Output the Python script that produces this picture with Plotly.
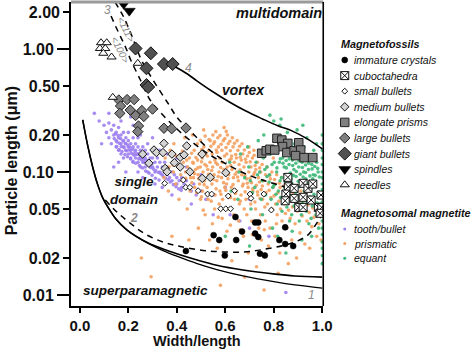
import math
import plotly.graph_objects as go

# ---------------- data ----------------
x_ticks = [0.0, 0.2, 0.4, 0.6, 0.8, 1.0]
x_ticklabels = ["0.0", "0.2", "0.4", "0.6", "0.8", "1.0"]
y_ticks_minor = [2.0, 0.5, 0.2, 0.05, 0.02]
y_ticklabels_minor = ["2.00", "0.50", "0.20", "0.05", "0.02"]
y_ticks_decade = [1.0, 0.1, 0.01]
y_ticklabels_decade = ["1.00", "0.10", "0.01"]

# Magnetosomal magnetite clouds (w/l, length um)
tooth_bullet = [
    (0.06, 0.30), (0.08, 0.26), (0.10, 0.24), (0.11, 0.21), (0.12, 0.25), (0.12, 0.19), (0.13, 0.22), (0.13, 0.17),
    (0.14, 0.20), (0.14, 0.24), (0.15, 0.18), (0.15, 0.21), (0.15, 0.16), (0.16, 0.19), (0.16, 0.23), (0.16, 0.15),
    (0.17, 0.17), (0.17, 0.20), (0.17, 0.14), (0.18, 0.18), (0.18, 0.16), (0.18, 0.21), (0.18, 0.13), (0.19, 0.17),
    (0.19, 0.15), (0.19, 0.19), (0.20, 0.16), (0.20, 0.18), (0.20, 0.14), (0.20, 0.21), (0.21, 0.15), (0.21, 0.17),
    (0.21, 0.13), (0.22, 0.16), (0.22, 0.14), (0.22, 0.19), (0.22, 0.12), (0.23, 0.15), (0.23, 0.13), (0.23, 0.17),
    (0.24, 0.14), (0.24, 0.16), (0.24, 0.12), (0.24, 0.19), (0.25, 0.13), (0.25, 0.15), (0.25, 0.11), (0.26, 0.14),
    (0.26, 0.12), (0.26, 0.16), (0.27, 0.13), (0.27, 0.11), (0.27, 0.15), (0.28, 0.12), (0.28, 0.14), (0.28, 0.10),
    (0.29, 0.12), (0.29, 0.13), (0.30, 0.11), (0.30, 0.13), (0.30, 0.15), (0.31, 0.12), (0.31, 0.10), (0.32, 0.11),
    (0.32, 0.13), (0.33, 0.10), (0.33, 0.12), (0.34, 0.11), (0.34, 0.095), (0.35, 0.10), (0.35, 0.12), (0.36, 0.095),
    (0.36, 0.11), (0.37, 0.09), (0.38, 0.10), (0.38, 0.085), (0.39, 0.095), (0.40, 0.09), (0.40, 0.08), (0.41, 0.085),
    (0.42, 0.09), (0.42, 0.075), (0.43, 0.08), (0.44, 0.085), (0.45, 0.075), (0.46, 0.07), (0.47, 0.08), (0.48, 0.065),
    (0.50, 0.07), (0.52, 0.06), (0.55, 0.065), (0.58, 0.05), (0.62, 0.045), (0.66, 0.04), (0.70, 0.035), (0.78, 0.03),
    (0.85, 0.0105), (0.12, 0.30), (0.14, 0.11), (0.17, 0.26), (0.19, 0.10), (0.22, 0.24), (0.26, 0.09), (0.30, 0.19),
    (0.34, 0.075), (0.40, 0.13), (0.46, 0.055), (0.21, 0.28), (0.25, 0.20), (0.09, 0.17), (0.28, 0.17), (0.33, 0.15),
    (0.36, 0.14), (0.44, 0.11), (0.50, 0.095), (0.55, 0.045), (0.60, 0.075), (0.38, 0.065), (0.31, 0.08), (0.24, 0.10),
    (0.16, 0.12), (0.70, 0.06),
    (0.142, 0.187), (0.153, 0.176), (0.163, 0.171), (0.171, 0.161), (0.183, 0.158), (0.192, 0.149), (0.203, 0.151),
    (0.212, 0.142), (0.224, 0.137), (0.233, 0.139), (0.243, 0.128), (0.254, 0.126), (0.263, 0.121), (0.272, 0.118),
    (0.283, 0.114), (0.292, 0.109), (0.303, 0.106), (0.313, 0.103), (0.324, 0.099), (0.334, 0.097), (0.344, 0.092),
    (0.353, 0.089), (0.364, 0.087), (0.373, 0.083), (0.386, 0.079), (0.397, 0.076), (0.408, 0.073), (0.418, 0.071),
    (0.147, 0.205), (0.158, 0.198), (0.168, 0.187), (0.178, 0.179), (0.188, 0.171), (0.198, 0.166), (0.207, 0.159),
    (0.218, 0.153), (0.228, 0.146), (0.238, 0.141), (0.248, 0.136), (0.258, 0.131), (0.268, 0.127), (0.277, 0.124),
    (0.288, 0.119), (0.297, 0.116),
    (0.152, 0.161), (0.162, 0.152), (0.174, 0.147), (0.186, 0.139), (0.196, 0.133), (0.209, 0.128), (0.219, 0.122),
    (0.231, 0.118), (0.246, 0.113), (0.259, 0.108), (0.271, 0.102), (0.286, 0.098), (0.298, 0.094), (0.312, 0.089),
    (0.327, 0.086),
]

prismatic = [
    (0.352, 0.13), (0.347, 0.09),
    (0.368, 0.11), (0.373, 0.15), (0.365, 0.07),
    (0.392, 0.12), (0.386, 0.10), (0.395, 0.08), (0.388, 0.17),
    (0.412, 0.13), (0.405, 0.11), (0.416, 0.095), (0.409, 0.06),
    (0.432, 0.14), (0.427, 0.12), (0.436, 0.10), (0.424, 0.085), (0.433, 0.19),
    (0.452, 0.13), (0.445, 0.11), (0.457, 0.09), (0.448, 0.16), (0.455, 0.07), (0.443, 0.05),
    (0.472, 0.15), (0.466, 0.12), (0.477, 0.105), (0.469, 0.09), (0.474, 0.075), (0.465, 0.20),
    (0.492, 0.14), (0.486, 0.125), (0.497, 0.11), (0.488, 0.095), (0.494, 0.08), (0.485, 0.17), (0.498, 0.06), (0.489, 0.035),
    (0.512, 0.16), (0.505, 0.13), (0.516, 0.115), (0.508, 0.10), (0.514, 0.085), (0.506, 0.07), (0.511, 0.22), (0.517, 0.045),
    (0.532, 0.15), (0.526, 0.135), (0.537, 0.12), (0.528, 0.105), (0.534, 0.09), (0.525, 0.075), (0.538, 0.18), (0.529, 0.06), (0.535, 0.028),
    (0.552, 0.17), (0.546, 0.14), (0.557, 0.125), (0.548, 0.11), (0.554, 0.095), (0.545, 0.08), (0.558, 0.065), (0.549, 0.20), (0.556, 0.05), (0.547, 0.038),
    (0.572, 0.16), (0.566, 0.145), (0.577, 0.13), (0.568, 0.115), (0.574, 0.10), (0.565, 0.085), (0.578, 0.07), (0.569, 0.19), (0.575, 0.055), (0.567, 0.024),
    (0.592, 0.18), (0.586, 0.15), (0.597, 0.135), (0.588, 0.12), (0.594, 0.105), (0.585, 0.09), (0.598, 0.075), (0.589, 0.06), (0.595, 0.23), (0.587, 0.042),
    (0.612, 0.17), (0.606, 0.14), (0.617, 0.125), (0.608, 0.11), (0.614, 0.095), (0.605, 0.08), (0.618, 0.065), (0.609, 0.20), (0.615, 0.05), (0.607, 0.033),
    (0.632, 0.16), (0.626, 0.135), (0.637, 0.12), (0.628, 0.105), (0.634, 0.09), (0.625, 0.075), (0.638, 0.06), (0.629, 0.19), (0.635, 0.045), (0.627, 0.019),
    (0.652, 0.15), (0.646, 0.13), (0.657, 0.115), (0.648, 0.10), (0.654, 0.085), (0.645, 0.07), (0.658, 0.055), (0.649, 0.18), (0.655, 0.04),
    (0.672, 0.14), (0.666, 0.125), (0.677, 0.11), (0.668, 0.095), (0.674, 0.08), (0.665, 0.065), (0.678, 0.05), (0.669, 0.17), (0.675, 0.03),
    (0.692, 0.135), (0.686, 0.12), (0.697, 0.10), (0.688, 0.088), (0.694, 0.075), (0.685, 0.06), (0.698, 0.16), (0.689, 0.045), (0.695, 0.022),
    (0.712, 0.13), (0.706, 0.11), (0.717, 0.095), (0.708, 0.082), (0.714, 0.07), (0.705, 0.055), (0.718, 0.15), (0.709, 0.04),
    (0.732, 0.12), (0.726, 0.105), (0.737, 0.09), (0.728, 0.078), (0.734, 0.065), (0.725, 0.05), (0.738, 0.035), (0.729, 0.017),
    (0.752, 0.115), (0.746, 0.10), (0.757, 0.085), (0.748, 0.072), (0.754, 0.06), (0.745, 0.045), (0.758, 0.14), (0.749, 0.028),
    (0.772, 0.11), (0.766, 0.095), (0.777, 0.08), (0.768, 0.068), (0.774, 0.055), (0.765, 0.04), (0.778, 0.025),
    (0.792, 0.10), (0.786, 0.088), (0.797, 0.075), (0.788, 0.062), (0.794, 0.05), (0.785, 0.035), (0.798, 0.13),
    (0.812, 0.095), (0.806, 0.08), (0.817, 0.068), (0.808, 0.055), (0.814, 0.045), (0.805, 0.03), (0.818, 0.015),
    (0.832, 0.09), (0.826, 0.075), (0.837, 0.062), (0.828, 0.05), (0.834, 0.04), (0.825, 0.022),
    (0.852, 0.085), (0.846, 0.07), (0.857, 0.058), (0.848, 0.046), (0.854, 0.035),
    (0.872, 0.08), (0.866, 0.065), (0.877, 0.052), (0.868, 0.042), (0.874, 0.028),
    (0.892, 0.075), (0.886, 0.06), (0.897, 0.048), (0.888, 0.038), (0.894, 0.020),
    (0.912, 0.07), (0.906, 0.055), (0.917, 0.044), (0.908, 0.032),
    (0.932, 0.065), (0.926, 0.05), (0.937, 0.04), (0.928, 0.026),
    (0.952, 0.06), (0.946, 0.047), (0.957, 0.036), (0.948, 0.024),
    (0.972, 0.055), (0.966, 0.043), (0.977, 0.030),
    (0.992, 0.05), (0.986, 0.038), (0.995, 0.028),
    (0.254, 0.020), (0.294, 0.0141), (0.38, 0.03), (0.58, 0.012), (0.68, 0.014), (0.76, 0.011), (0.45, 0.028), (0.86, 0.018),
    (0.461, 0.142), (0.479, 0.131), (0.503, 0.152), (0.519, 0.141), (0.541, 0.162), (0.563, 0.151), (0.583, 0.168),
    (0.603, 0.158), (0.621, 0.149), (0.643, 0.139), (0.662, 0.132), (0.683, 0.127), (0.703, 0.121), (0.723, 0.113),
    (0.742, 0.108), (0.468, 0.118), (0.487, 0.108), (0.502, 0.121), (0.523, 0.112), (0.544, 0.103), (0.561, 0.119),
    (0.581, 0.109), (0.601, 0.101), (0.622, 0.113), (0.641, 0.096), (0.661, 0.104), (0.681, 0.093), (0.702, 0.089),
    (0.721, 0.099), (0.741, 0.083), (0.473, 0.097), (0.491, 0.088), (0.513, 0.079), (0.531, 0.096), (0.551, 0.087),
    (0.571, 0.092), (0.593, 0.082), (0.611, 0.088), (0.632, 0.079), (0.651, 0.091), (0.671, 0.077), (0.691, 0.081),
    (0.713, 0.073), (0.733, 0.069), (0.753, 0.077), (0.482, 0.068), (0.502, 0.063), (0.522, 0.067), (0.542, 0.058),
    (0.562, 0.073), (0.582, 0.066), (0.602, 0.071), (0.622, 0.062), (0.642, 0.067), (0.662, 0.058), (0.682, 0.069),
    (0.702, 0.063), (0.722, 0.057), (0.743, 0.061), (0.763, 0.052), (0.533, 0.184), (0.556, 0.176), (0.578, 0.198),
    (0.598, 0.187), (0.619, 0.178), (0.638, 0.171), (0.659, 0.162), (0.679, 0.151), (0.699, 0.144), (0.719, 0.137),
    (0.497, 0.181), (0.517, 0.196), (0.561, 0.213), (0.604, 0.214), (0.624, 0.128), (0.783, 0.094), (0.803, 0.087),
    (0.823, 0.081), (0.842, 0.077), (0.862, 0.073), (0.781, 0.071), (0.801, 0.064), (0.821, 0.058), (0.843, 0.055),
    (0.861, 0.049), (0.881, 0.068), (0.902, 0.063), (0.922, 0.058), (0.941, 0.054), (0.961, 0.051), (0.423, 0.148),
    (0.441, 0.125), (0.417, 0.108), (0.437, 0.089), (0.456, 0.104), (0.462, 0.082), (0.398, 0.135), (0.384, 0.114),
    (0.509, 0.049), (0.571, 0.043), (0.621, 0.037), (0.662, 0.034), (0.712, 0.031), (0.761, 0.034), (0.811, 0.038),
]

equant = [
    (0.618, 0.12), (0.624, 0.07),
    (0.657, 0.10), (0.663, 0.14), (0.652, 0.06),
    (0.697, 0.11), (0.703, 0.085), (0.692, 0.16), (0.706, 0.05),
    (0.727, 0.12), (0.733, 0.095), (0.722, 0.075), (0.736, 0.18), (0.729, 0.04),
    (0.757, 0.13), (0.763, 0.105), (0.752, 0.085), (0.766, 0.065), (0.759, 0.20), (0.754, 0.045),
    (0.787, 0.14), (0.793, 0.115), (0.782, 0.095), (0.796, 0.075), (0.789, 0.06), (0.784, 0.29), (0.795, 0.035),
    (0.817, 0.15), (0.823, 0.12), (0.812, 0.10), (0.826, 0.085), (0.819, 0.07), (0.814, 0.055), (0.825, 0.24), (0.816, 0.03),
    (0.837, 0.13), (0.843, 0.11), (0.832, 0.09), (0.846, 0.075), (0.839, 0.062), (0.834, 0.048), (0.845, 0.19),
    (0.857, 0.14), (0.863, 0.115), (0.852, 0.095), (0.866, 0.08), (0.859, 0.066), (0.854, 0.052), (0.865, 0.04), (0.856, 0.21),
    (0.877, 0.125), (0.883, 0.105), (0.872, 0.088), (0.886, 0.072), (0.879, 0.058), (0.874, 0.045), (0.885, 0.17), (0.876, 0.033),
    (0.897, 0.13), (0.903, 0.11), (0.892, 0.092), (0.906, 0.076), (0.899, 0.062), (0.894, 0.05), (0.905, 0.04), (0.896, 0.22),
    (0.917, 0.12), (0.923, 0.10), (0.912, 0.085), (0.926, 0.07), (0.919, 0.056), (0.914, 0.045), (0.925, 0.16), (0.916, 0.028),
    (0.937, 0.125), (0.943, 0.105), (0.932, 0.088), (0.946, 0.074), (0.939, 0.06), (0.934, 0.048), (0.945, 0.038), (0.936, 0.19),
    (0.957, 0.115), (0.963, 0.095), (0.952, 0.08), (0.966, 0.066), (0.959, 0.053), (0.954, 0.042), (0.965, 0.15), (0.956, 0.03),
    (0.977, 0.12), (0.983, 0.10), (0.972, 0.083), (0.986, 0.069), (0.979, 0.056), (0.974, 0.045), (0.985, 0.035), (0.976, 0.17),
    (1.0, 0.20), (1.0, 0.17), (1.0, 0.15), (1.0, 0.13), (1.0, 0.115), (1.0, 0.10), (1.0, 0.09), (1.0, 0.08), (1.0, 0.072),
    (1.0, 0.064), (1.0, 0.057), (1.0, 0.05), (1.0, 0.045), (1.0, 0.04), (1.0, 0.035), (1.0, 0.031), (1.0, 0.027),
    (1.0, 0.024), (1.0, 0.021), (1.0, 0.018),
    (0.70, 0.025), (0.60, 0.03), (0.85, 0.022), (0.80, 0.26), (0.92, 0.24), (0.83, 0.27),
    (0.852, 0.108), (0.868, 0.098), (0.881, 0.094), (0.893, 0.101), (0.909, 0.096), (0.921, 0.091), (0.931, 0.099),
    (0.949, 0.093), (0.961, 0.088), (0.971, 0.094), (0.988, 0.091), (0.848, 0.084), (0.861, 0.077), (0.874, 0.081),
    (0.889, 0.066), (0.901, 0.084), (0.913, 0.078), (0.929, 0.063), (0.942, 0.081), (0.953, 0.072), (0.968, 0.077),
    (0.982, 0.064), (0.842, 0.067), (0.858, 0.059), (0.871, 0.064), (0.883, 0.053), (0.898, 0.057), (0.911, 0.061),
    (0.924, 0.052), (0.938, 0.057), (0.951, 0.063), (0.964, 0.058), (0.978, 0.051), (0.991, 0.055), (0.802, 0.12),
    (0.813, 0.108), (0.827, 0.128), (0.838, 0.118), (0.851, 0.124), (0.864, 0.128), (0.878, 0.113), (0.891, 0.118),
    (0.904, 0.123), (0.918, 0.109), (0.931, 0.114), (0.944, 0.118), (0.958, 0.106), (0.969, 0.111), (0.981, 0.107),
    (0.772, 0.092), (0.781, 0.083), (0.801, 0.078), (0.809, 0.066), (0.828, 0.062), (0.772, 0.11), (0.742, 0.10),
    (0.748, 0.06), (0.712, 0.068), (0.68, 0.09),
]

# Magnetofossils
immature_x = [0.4375, 0.552, 0.575, 0.598, 0.642, 0.645, 0.669, 0.723, 0.736, 0.723, 0.736, 0.743, 0.763, 0.847, 0.823, 0.847, 0.880]
immature_y = [0.0228, 0.0307, 0.0280, 0.0210, 0.0431, 0.0280, 0.0328, 0.0389, 0.0389, 0.0316, 0.0296, 0.0217, 0.0210, 0.0355, 0.0280, 0.0260, 0.0250]

cubo_x = [0.858, 0.860, 0.850, 0.847, 0.884, 0.884, 0.921, 0.921, 0.941, 0.961, 0.954, 0.903, 0.921, 0.995, 0.984, 0.998, 0.991]
cubo_y = [0.0905, 0.0759, 0.0662, 0.0584, 0.0737, 0.0611, 0.0810, 0.0623, 0.0737, 0.0799, 0.0592, 0.0516, 0.0516, 0.0650, 0.0516, 0.0516, 0.0462]

small_x = [0.350, 0.427, 0.437, 0.454, 0.488, 0.527, 0.544, 0.612, 0.638, 0.702, 0.706, 0.759, 0.581, 0.602, 0.622, 0.790]
small_y = [0.0810, 0.0861, 0.0751, 0.0751, 0.0705, 0.0662, 0.0662, 0.0638, 0.0705, 0.0662, 0.0611, 0.0662, 0.0503, 0.0503, 0.0503, 0.0491]

medium_x = [0.259, 0.285, 0.306, 0.316, 0.347, 0.343, 0.352, 0.360, 0.380, 0.390, 0.414, 0.430, 0.441, 0.454, 0.504, 0.505, 0.538, 0.602, 0.414]
medium_y = [0.140, 0.118, 0.151, 0.144, 0.171, 0.144, 0.107, 0.1005, 0.140, 0.119, 0.132, 0.138, 0.163, 0.1005, 0.140, 0.0889, 0.0906, 0.0987, 0.110]

prism_x = [0.813, 0.833, 0.858, 0.836, 0.750, 0.769, 0.784, 0.804, 0.854, 0.884, 0.903, 0.911, 0.890, 0.925, 0.961]
prism_y = [0.188, 0.182, 0.171, 0.161, 0.142, 0.149, 0.153, 0.151, 0.144, 0.149, 0.173, 0.151, 0.136, 0.131, 0.131]

large_x = [0.161, 0.195, 0.224, 0.168, 0.208, 0.256, 0.300, 0.165, 0.230, 0.264, 0.242, 0.239, 0.347, 0.379, 0.438]
large_y = [0.385, 0.388, 0.388, 0.344, 0.319, 0.316, 0.325, 0.300, 0.288, 0.283, 0.237, 0.213, 0.227, 0.225, 0.228]

giant_x = [0.230, 0.293, 0.275, 0.347, 0.383, 0.275, 0.282]
giant_y = [1.01, 0.923, 0.697, 0.755, 0.755, 0.510, 0.491]

spindle_x = [0.181, 0.204]
spindle_y = [2.32, 2.04]

needle_x = [0.0875, 0.111, 0.083, 0.105, 0.097, 0.131, 0.239, 0.136]
needle_y = [1.125, 1.125, 1.01, 1.01, 0.923, 0.861, 0.765, 0.405]

# Boundary curves
curve1a_x = [0.012, 0.032, 0.052, 0.073, 0.093, 0.121, 0.149, 0.190, 0.230, 0.282, 0.343, 0.403, 0.484, 0.565, 0.673, 0.806, 0.887, 1.0]
curve1a_y = [0.265, 0.166, 0.112, 0.0798, 0.0626, 0.050, 0.0415, 0.0344, 0.0302, 0.0265, 0.0237, 0.0216, 0.0193, 0.0175, 0.0160, 0.0148, 0.0143, 0.0140]
curve1b_x = [0.012, 0.032, 0.052, 0.073, 0.093, 0.121, 0.149, 0.190, 0.230, 0.282, 0.343, 0.403, 0.484, 0.565, 0.673, 0.806, 0.887, 1.0]
curve1b_y = [0.265, 0.166, 0.112, 0.0798, 0.0626, 0.050, 0.0415, 0.0344, 0.0302, 0.0263, 0.0230, 0.0206, 0.0180, 0.0161, 0.0143, 0.0128, 0.0121, 0.0114]
curve2_x = [0.105, 0.153, 0.202, 0.270, 0.343, 0.415, 0.536, 0.673, 0.778, 0.875, 0.940, 0.980, 0.996]
curve2_y = [0.0592, 0.0473, 0.0392, 0.0313, 0.0270, 0.0248, 0.0228, 0.0224, 0.0239, 0.0265, 0.0307, 0.0392, 0.0439]
curve3_100_x = [0.129, 0.149, 0.169, 0.190, 0.210, 0.250, 0.290, 0.335, 0.375, 0.423, 0.484, 0.544, 0.605, 0.685, 0.766, 0.847]
curve3_100_y = [1.855, 1.51, 1.25, 1.02, 0.814, 0.560, 0.385, 0.302, 0.250, 0.204, 0.163, 0.135, 0.116, 0.0964, 0.0845, 0.0755]
curve3_111_x = [0.145, 0.181, 0.218, 0.254, 0.302, 0.363, 0.403, 0.452, 0.496, 0.544, 0.605]
curve3_111_y = [2.41, 1.82, 1.23, 0.814, 0.560, 0.364, 0.275, 0.219, 0.179, 0.146, 0.120]
curve4_x = [0.395, 0.444, 0.484, 0.544, 0.617, 0.685, 0.754, 0.819, 0.875, 0.940, 1.0]
curve4_y = [0.714, 0.626, 0.549, 0.456, 0.371, 0.313, 0.270, 0.237, 0.216, 0.185, 0.154]

# Legend entries
fossil_labels = ["immature crystals", "cuboctahedra", "small bullets", "medium bullets", "elongate prisms",
                 "large bullets", "giant bullets", "spindles", "needles"]
magnetite_labels = ["tooth/bullet", "prismatic", "equant"]

# ---------------- styles ----------------
PURPLE = "#9d7ff0"
ORANGE = "#f5a05e"
GREEN = "#3cb878"
FONT = "Liberation Sans, Arial, sans-serif"

fossil_styles = [
    dict(symbol="circle", size=6, color="black", line=dict(color="black", width=0.5)),
    dict(symbol="square-x", size=8, color="white", line=dict(color="#111", width=1)),
    dict(symbol="diamond", size=4.5, color="white", line=dict(color="#111", width=1)),
    dict(symbol="diamond", size=6.5, color="#d4d4d4", line=dict(color="#111", width=1)),
    dict(symbol="square", size=8.5, color="#7f7f7f", line=dict(color="#222", width=1)),
    dict(symbol="diamond", size=8, color="#808080", line=dict(color="#222", width=1)),
    dict(symbol="diamond", size=10, color="#505050", line=dict(color="#111", width=1)),
    dict(symbol="triangle-down", size=10.5, color="black", line=dict(color="black", width=0.5)),
    dict(symbol="triangle-up", size=8, color="white", line=dict(color="#111", width=1)),
]
fossil_data = [(immature_x, immature_y), (cubo_x, cubo_y), (small_x, small_y), (medium_x, medium_y),
               (prism_x, prism_y), (large_x, large_y), (giant_x, giant_y), (spindle_x, spindle_y),
               (needle_x, needle_y)]

fig = go.Figure()

# clouds
for pts, col, name in [(tooth_bullet, PURPLE, "tooth/bullet"), (prismatic, ORANGE, "prismatic"), (equant, GREEN, "equant")]:
    fig.add_trace(go.Scatter(x=[p[0] for p in pts], y=[p[1] for p in pts], mode="markers", name=name,
                             marker=dict(size=3.6, color=col, opacity=0.9, line=dict(width=0)),
                             showlegend=False, hoverinfo="skip"))

# curves
solid = dict(color="black", width=1.6)
dashed = dict(color="black", width=1.5, dash="6px,5px")
fig.add_trace(go.Scatter(x=curve1a_x, y=curve1a_y, mode="lines", line=dict(shape="spline", **solid), showlegend=False))
fig.add_trace(go.Scatter(x=curve1b_x, y=curve1b_y, mode="lines", line=dict(shape="spline", color="black", width=1.3), showlegend=False))
fig.add_trace(go.Scatter(x=curve2_x, y=curve2_y, mode="lines", line=dict(shape="spline", **dashed), showlegend=False))
fig.add_trace(go.Scatter(x=curve3_100_x, y=curve3_100_y, mode="lines", line=dict(shape="spline", **dashed), showlegend=False))
fig.add_trace(go.Scatter(x=curve3_111_x, y=curve3_111_y, mode="lines", line=dict(shape="spline", **dashed), showlegend=False))
fig.add_trace(go.Scatter(x=curve4_x, y=curve4_y, mode="lines", line=dict(shape="spline", **solid), showlegend=False,
                         xaxis="x", yaxis="y3"))

# magnetofossils
for (xs, ys), st, lab in zip(fossil_data, fossil_styles, fossil_labels):
    fig.add_trace(go.Scatter(x=xs, y=ys, mode="markers", name=lab, marker=st, showlegend=False))

# ---------------- custom legend on a helper axis (1 unit = 1 px) ----------------
W, H = 474, 351
ML, MT, MB = 71, 2, 45
PLOT_R = 329
paper_w = W - ML
dom_end = (PLOT_R - ML) / paper_w

LEG_SYM_X = 351
LEG_TXT_X = 358
fossil_row0, fossil_step = 60, 15.6
mag_row0, mag_step = 229, 14.6
fossil_rows = [fossil_row0 + i * fossil_step for i in range(len(fossil_labels))]
mag_rows = [mag_row0 + i * mag_step for i in range(len(magnetite_labels))]

for row, st in zip(fossil_rows, fossil_styles):
    fig.add_trace(go.Scatter(x=[LEG_SYM_X], y=[row], mode="markers", marker=st, showlegend=False,
                             xaxis="x2", yaxis="y2", hoverinfo="skip"))
for row, col in zip(mag_rows, [PURPLE, ORANGE, GREEN]):
    fig.add_trace(go.Scatter(x=[LEG_SYM_X], y=[row], mode="markers", marker=dict(size=3, color=col),
                             showlegend=False, xaxis="x2", yaxis="y2", hoverinfo="skip"))

annotations = []
leg_font = dict(family=FONT, size=10.5, color="#111", style="italic")
for row, lab in zip(fossil_rows + mag_rows, fossil_labels + magnetite_labels):
    annotations.append(dict(x=LEG_TXT_X, y=row, xref="x2", yref="y2", text=lab, showarrow=False,
                            xanchor="left", yanchor="middle", font=leg_font))
title_font = dict(family=FONT, size=10.8, color="#111", style="italic", weight="bold")
annotations.append(dict(x=345, y=fossil_row0 - 16, xref="x2", yref="y2", text="Magnetofossils", showarrow=False,
                        xanchor="left", yanchor="middle", font=title_font))
annotations.append(dict(x=345, y=mag_row0 - 16, xref="x2", yref="y2", text="Magnetosomal magnetite", showarrow=False,
                        xanchor="left", yanchor="middle", font=title_font))

# region and curve labels (log axis -> log10 positions)
def lab(x, y, text, size, color="#111", bold=True, angle=0):
    f = dict(family=FONT, size=size, color=color, style="italic")
    if bold:
        f["weight"] = "bold"
    return dict(x=x, y=math.log10(y), xref="x", yref="y", text=text, showarrow=False,
                xanchor="center", yanchor="middle", font=f, textangle=angle)

annotations += [
    lab(0.823, 1.96, "multidomain", 14.5),
    lab(0.675, 0.465, "vortex", 14),
    lab(0.224, 0.0702, "single<br>domain", 13.5),
    lab(0.270, 0.0108, "superparamagnetic", 13.5),
    lab(0.955, 0.0100, "1", 12, color="#8a8a8a", bold=False),
    lab(0.222, 0.0423, "2", 12, color="#8a8a8a"),
    lab(0.113, 2.07, "3", 12, color="#8a8a8a", bold=False),
    lab(0.450, 0.70, "4", 12, color="#8a8a8a", bold=False),
    lab(0.190, 1.43, "<111>", 10, color="#8a8a8a", bold=False, angle=63),
    lab(0.169, 0.98, "<100>", 10, color="#8a8a8a", bold=False, angle=63),
]

# axis titles
plot_h = H - MT - MB
annotations.append(dict(x=(dom_end) / 2, y=(306 - 350.5) / plot_h, xref="paper", yref="paper", text="Width/length",
                        showarrow=False, xanchor="center", yanchor="bottom",
                        font=dict(family=FONT, size=14.5, color="#111", weight="bold")))
annotations.append(dict(x=(10 - ML) / paper_w, y=(306 - 161) / plot_h, xref="paper", yref="paper",
                        text="Particle length (μm)", showarrow=False, textangle=-90, xanchor="center",
                        yanchor="middle", font=dict(family=FONT, size=16, color="#111", weight="bold")))

tickfont = dict(family=FONT, size=15, color="#111", weight="bold")
yrange = [math.log10(0.00815), math.log10(2.41)]

fig.update_layout(
    width=W, height=H, margin=dict(l=ML, r=0, t=MT, b=MB, pad=0),
    paper_bgcolor="white", plot_bgcolor="white", showlegend=False,
    xaxis=dict(domain=[0, dom_end], range=[-0.0363, 1.004], tickvals=x_ticks, ticktext=x_ticklabels,
               ticks="outside", ticklen=5, tickwidth=1.5, tickcolor="black", showline=True, linewidth=1.6,
               linecolor="black", showgrid=False, zeroline=False, tickfont=tickfont, fixedrange=True),
    yaxis=dict(type="log", range=yrange, tickvals=y_ticks_minor, ticktext=y_ticklabels_minor,
               ticks="outside", ticklen=6, tickwidth=1.5, tickcolor="black", showline=True, linewidth=1.6,
               linecolor="black", showgrid=False, zeroline=False, tickfont=dict(tickfont, size=16)),
    yaxis3=dict(type="log", range=yrange, overlaying="y", side="left", anchor="x", tickvals=y_ticks_decade,
                ticktext=y_ticklabels_decade, ticks="outside", ticklen=13, tickwidth=1.5, tickcolor="black",
                showline=False, showgrid=False, zeroline=False, tickfont=dict(tickfont, size=16)),
    xaxis2=dict(domain=[dom_end, 1], range=[PLOT_R, W], visible=False, anchor="y2"),
    yaxis2=dict(domain=[0, 1], range=[H - MB, MT], visible=False, anchor="x2"),
    annotations=annotations,
    shapes=[
        dict(type="line", xref="paper", yref="paper", x0=0, x1=dom_end, y0=1, y1=1,
             line=dict(color="#9a9a9a", width=3)),
        dict(type="line", xref="paper", yref="paper", x0=dom_end, x1=dom_end, y0=0, y1=1,
             line=dict(color="black", width=1.6)),
    ],
)

fig.write_html("out.html")
